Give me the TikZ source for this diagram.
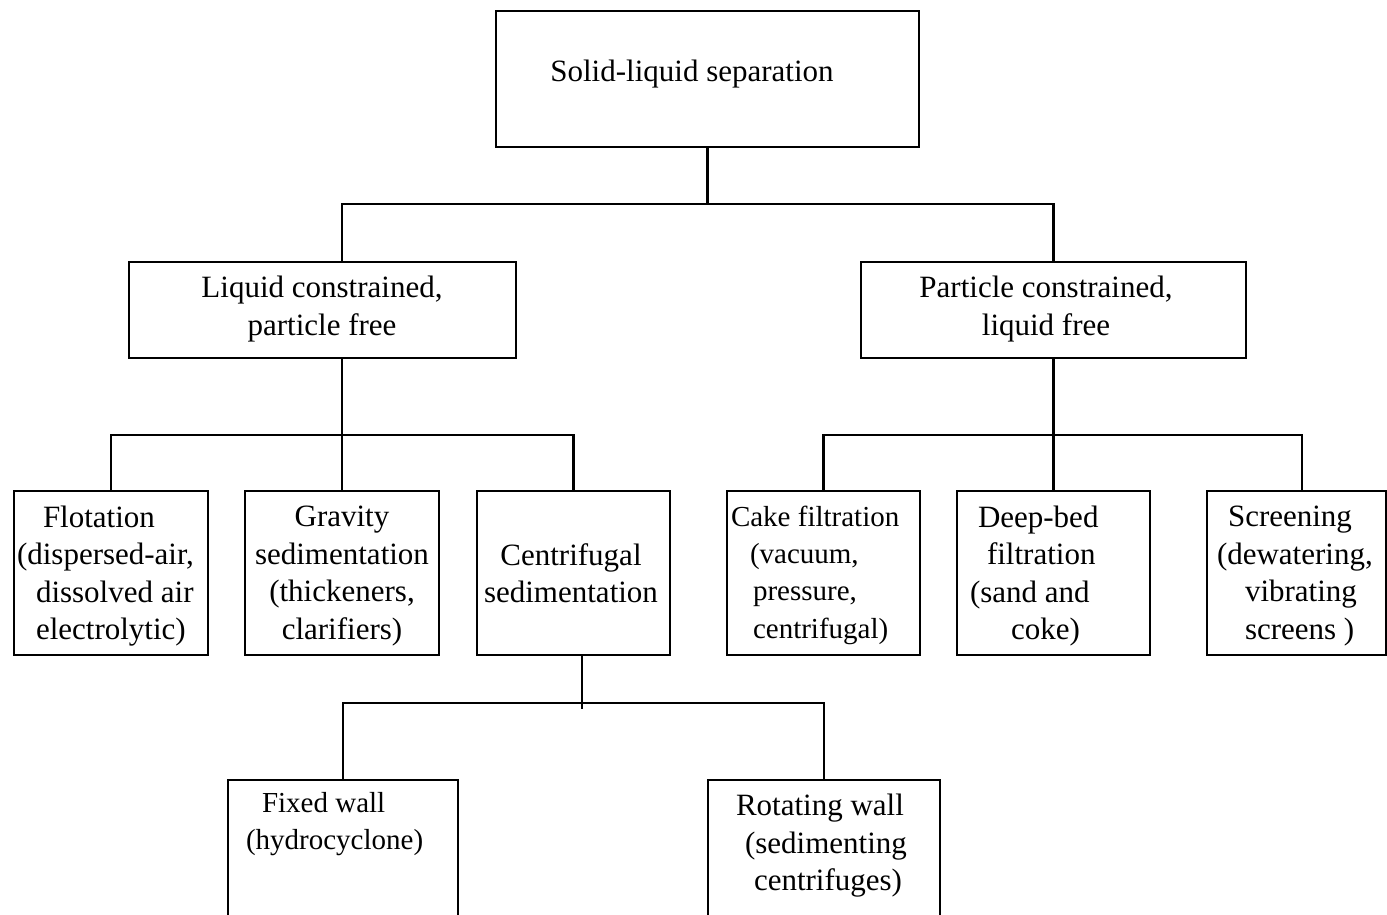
\documentclass[tikz,border=0pt]{standalone}
\usepackage{fontspec}
\setmainfont{Liberation Serif}
\begin{document}
\begin{tikzpicture}[x=1pt,y=-1pt,
  box/.style={draw, line width=2.6pt, inner sep=0pt, outer sep=0pt},
  conn/.style={line width=2.6pt},
  txt/.style={inner sep=0pt, outer sep=0pt, font=\fontsize{31}{37.5}\selectfont},
  txs/.style={inner sep=0pt, outer sep=0pt, font=\fontsize{29}{37.3}\selectfont}]
\useasboundingbox (0,0) rectangle (1387,915);
\clip (0,0) rectangle (1387,915);
% boxes
\node[box, minimum width=423pt, minimum height=136pt] (top) at (707.5,79) {};
\node[box, minimum width=387pt, minimum height=96pt] (liq) at (322.5,310) {};
\node[box, minimum width=385pt, minimum height=96pt] (par) at (1053.5,310) {};
\node[box, minimum width=194pt, minimum height=164pt] (flo) at (111,573) {};
\node[box, minimum width=194pt, minimum height=164pt] (gra) at (342,573) {};
\node[box, minimum width=193pt, minimum height=164pt] (cen) at (573.5,573) {};
\node[box, minimum width=193pt, minimum height=164pt] (cak) at (823.5,573) {};
\node[box, minimum width=193pt, minimum height=164pt] (dee) at (1053.5,573) {};
\node[box, minimum width=179pt, minimum height=164pt] (scr) at (1296.5,573) {};
\node[box, minimum width=230pt, minimum height=180pt] (fix) at (343,870) {};
\node[box, minimum width=232pt, minimum height=180pt] (rot) at (824,870) {};
% texts
\node[txt] (ttop) at (692,74) {Solid-liquid separation};
\node[txt, align=center] (tliq) at (322,309) {Liquid constrained,\\particle free};
\node[txt, align=center] (tpar) at (1046,309) {Particle constrained,\\liquid free};
\node[txt, align=left, anchor=west] (tflo) at (17,576) {\hspace*{26pt}Flotation\\(dispersed-air,\\\hspace*{19pt}dissolved air\\\hspace*{19pt}electrolytic)};
\node[txt, align=center] (tgra) at (342,576) {Gravity\\sedimentation\\(thickeners,\\clarifiers)};
\node[txt, align=center] (tcen) at (571,573) {Centrifugal\\sedimentation};
\node[txs, align=left, anchor=west] (tcak) at (731,575) {Cake filtration\\\hspace*{19pt}(vacuum,\\\hspace*{22pt}pressure,\\\hspace*{22pt}centrifugal)};
\node[txt, align=left, anchor=west] (tdee) at (970,576) {\hspace*{8pt}Deep-bed\\\hspace*{17pt}filtration\\(sand and\\\hspace*{41pt}coke)};
\node[txt, align=left, anchor=west] (tscr) at (1217,576) {\hspace*{11pt}Screening\\(dewatering,\\\hspace*{28pt}vibrating\\\hspace*{28pt}screens )};
\node[txs, align=left, anchor=west] (tfix) at (246,824) {\hspace*{16pt}Fixed wall\\(hydrocyclone)};
\node[txt, align=left, anchor=west] (trot) at (736,846) {Rotating wall\\\hspace*{9pt}(sedimenting\\\hspace*{18pt}centrifuges)};
% connectors
\coordinate (j1) at (707.5,204);
\coordinate (j2) at (342,435);
\coordinate (j3) at (582,703);
\coordinate (j3e) at (582,709);
\draw[conn] (top.south) -- (j1);
\draw[conn] ([xshift=19.5pt]liq.north) |- (par.north |- j1) -- (par.north);
\draw[conn] ([xshift=19.5pt]liq.south) -- (j2);
\draw[conn] (flo.north) |- (cen.north |- j2) -- (cen.north);
\draw[conn] (gra.north) -- (gra.north |- j2);
\draw[conn] (par.south) -- (par.south |- j2);
\draw[conn] (cak.north) |- ([xshift=5.5pt]scr.north |- j2) -- ([xshift=5.5pt]scr.north);
\draw[conn] (dee.north) -- (dee.north |- j2);
\draw[conn] ([xshift=8.5pt]cen.south) -- (j3e);
\draw[conn] (fix.north) |- (rot.north |- j3) -- (rot.north);
\end{tikzpicture}
\end{document}
